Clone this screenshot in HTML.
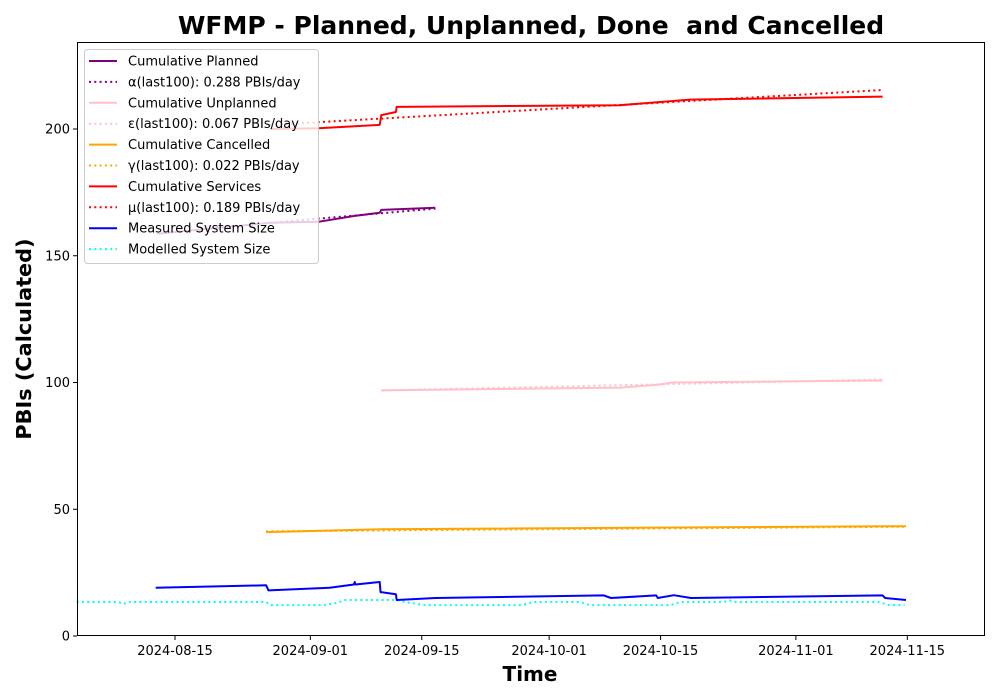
<!DOCTYPE html>
<html><head><meta charset="utf-8"><style>
body{margin:0;background:#fff}
svg{display:block;font-family:"DejaVu Sans","Liberation Sans",sans-serif}
</style></head><body>
<svg id="chart" width="1000" height="700" xmlns="http://www.w3.org/2000/svg">
<rect width="1000" height="700" fill="#fff"/>
<text x="531" y="34" text-anchor="middle" font-size="25" font-weight="bold">WFMP - Planned, Unplanned, Done&#160; and Cancelled</text>
<text transform="translate(31,339) rotate(-90)" text-anchor="middle" font-size="20.8" font-weight="bold">PBIs (Calculated)</text>
<text x="530" y="681" text-anchor="middle" font-size="20" font-weight="bold">Time</text>
<g id="plot"></g>
<rect x="77.5" y="42.5" width="907" height="593" fill="none" stroke="#000" stroke-width="1"/>
<g id="axes"></g>
<g id="legend"></g>
</svg>
<script>
// days relative to 2024-08-15
const xTickLabels=["2024-08-15","2024-09-01","2024-09-15","2024-10-01","2024-10-15","2024-11-01","2024-11-15"];
const xTickDays=[0,17,31,47,61,78,92];
const yTicks=[0,50,100,150,200];
const plannedX=[-2.23,11.95,18.02,22.48,25.72,25.92,32.71];
const plannedY=[158.7,163,163.4,165.7,167,168.1,168.9];
const plannedTrendX=[11.95,32.71];
const plannedTrendY=[163,168.6];
const unplannedX=[25.92,55.9,60.96,62.48,88.9];
const unplannedY=[96.9,98,99.2,100,100.8];
const unplannedTrendX=[25.92,88.9];
const unplannedTrendY=[96.9,101.2];
const cancelledX=[11.44,25.92,91.84];
const cancelledY=[41,42.1,43.3];
const cancelledTrendX=[11.44,91.84];
const cancelledTrendY=[41.3,43.1];
const servicesX=[11.95,18.02,25.72,25.92,27.75,27.85,55.9,64.71,88.9];
const servicesY=[200,200.3,201.6,205.5,206.7,208.7,209.4,211.6,212.8];
const servicesTrendX=[11.95,88.9];
const servicesTrendY=[201.6,215.4];
const measuredX=[-2.43,11.44,11.75,19.44,22.48,22.58,22.68,25.72,25.82,27.75,27.85,32.71,53.87,54.78,60.45,60.65,62.68,64.81,88.9,89.21,91.84];
const measuredY=[19,20,18,19,20.3,21.3,20.3,21.3,17.3,16.5,14.2,15,16,15,16,15,16.1,15,16,15,14.2];
const modelledX=[-12.35,-7.09,-6.48,-5.87,11.44,11.95,18.73,20.25,21.37,27.85,28.86,31.39,36.96,43.54,45.06,50.83,52.15,62.27,63.49,68.86,69.67,70.48,88.3,89.72,91.64];
const modelledY=[13.4,13.4,12.6,13.4,13.4,12.2,12.2,13,14.2,14.2,13.4,12.2,12.2,12.2,13.4,13.4,12.2,12.2,13.4,13.4,14,13.4,13.4,12.2,12.2];

const X0=175,PXD=7.96,Y0=636,PYU=2.535;
const xs=d=>X0+d*PXD, ys=v=>Y0-v*PYU;
const NS="http://www.w3.org/2000/svg";
const plot=document.getElementById('plot'),axes=document.getElementById('axes'),legend=document.getElementById('legend');
function mk(tag,attrs,parent){const e=document.createElementNS(NS,tag);for(const k in attrs)e.setAttribute(k,attrs[k]);parent.appendChild(e);return e;}
function line(xa,ya,color,dotted,name){
  const p=mk('polyline',{points:xa.map((d,i)=>xs(d).toFixed(1)+','+ys(ya[i]).toFixed(1)).join(' '),fill:'none',stroke:color,'stroke-width':2,'stroke-dasharray':dotted?'2,3.3':'none','stroke-linejoin':'round'},plot);
  
  
}
line(cancelledTrendX,cancelledTrendY,'orange',true,'cancelled-trend');
line(cancelledX,cancelledY,'orange',false,'cumulative-cancelled');
line(modelledX,modelledY,'cyan',true,'modelled-system-size');
line(measuredX,measuredY,'blue',false,'measured-system-size');
line(unplannedX,unplannedY,'pink',false,'cumulative-unplanned');
line(unplannedTrendX,unplannedTrendY,'pink',true,'unplanned-trend');
line(servicesX,servicesY,'red',false,'cumulative-services');
line(servicesTrendX,servicesTrendY,'red',true,'services-trend');
line(plannedX,plannedY,'purple',false,'cumulative-planned');
line(plannedTrendX,plannedTrendY,'purple',true,'planned-trend');

xTickDays.forEach((d,i)=>{
  const x=xs(d);
  const t=mk('line',{x1:x,x2:x,y1:636,y2:640,stroke:'#000'},axes);
  
  
  const l=mk('text',{x:x,y:655,'text-anchor':'middle','font-size':13},axes);
  l.textContent=xTickLabels[i];
  
  
});
yTicks.forEach(v=>{
  const y=ys(v);
  const t=mk('line',{x1:73,x2:77,y1:y,y2:y,stroke:'#000'},axes);
  
  
  const l=mk('text',{x:70,y:y+4.5,'text-anchor':'end','font-size':13},axes);
  l.textContent=v;
  
  
});

const legLabels=["Cumulative Planned","α(last100): 0.288 PBIs/day","Cumulative Unplanned","ε(last100): 0.067 PBIs/day","Cumulative Cancelled","γ(last100): 0.022 PBIs/day","Cumulative Services","μ(last100): 0.189 PBIs/day","Measured System Size","Modelled System Size"];
const legColors=['purple','purple','pink','pink','orange','orange','red','red','blue','cyan'];
const bg=mk('rect',{x:84.5,y:49.5,width:234,height:214,rx:3,fill:'rgba(255,255,255,0.8)',stroke:'#ccc'},legend);


legLabels.forEach((s,i)=>{
  const y=61+i*20.9;
  const g=mk('g',{},legend);
  
  
  mk('line',{x1:89,x2:117,y1:y,y2:y,stroke:legColors[i],'stroke-width':2,'stroke-dasharray':i%2||i==9?'2,3.3':'none'},g);
  const t=mk('text',{x:128,y:y+4.5,'font-size':13},g);
  t.textContent=s;
});
</script>
</body></html>
